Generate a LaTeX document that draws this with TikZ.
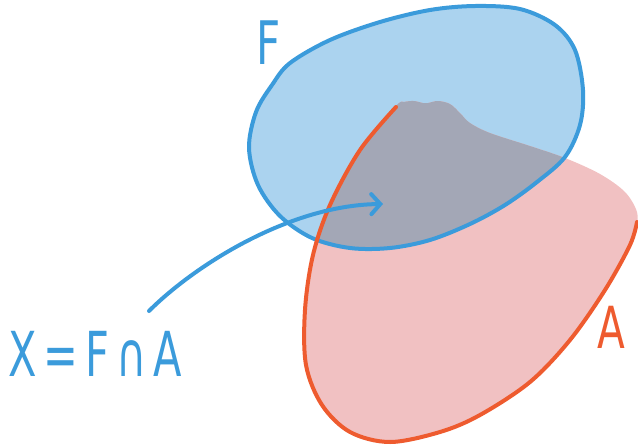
\documentclass[tikz,border=0pt]{standalone}
\usepackage{fontspec}
\setmainfont{DejaVu Sans}
\usetikzlibrary{arrows.meta}
\definecolor{fblue}{HTML}{3B9BDB}
\definecolor{ffill}{HTML}{ABD3EF}
\definecolor{ared}{HTML}{EE5B2F}
\definecolor{afill}{HTML}{F1C1C2}
\definecolor{xgray}{HTML}{A3A7B6}
\tikzset{
  pen/.style={line width=4pt, line cap=round, line join=round},
  hand/.style={inner sep=0pt, anchor=base west},
}
\begin{document}
\begin{tikzpicture}[x=1pt,y=-1pt]
\useasboundingbox (0,0) rectangle (638,445);
% set F
\path[save path=\Fpath] plot[smooth cycle, tension=0.55] coordinates {
 (290,63) (330,40) (380,22) (430,10) (475,6) (520,9) (555,25) (575,50)
 (583,90) (580,125) (565,157) (537,182) (505,205) (470,224) (430,240)
 (390,248) (350,248) (312,238) (280,216) (258,185) (249,148) (256,112)
 (272,85)};
% set A (fill region)
\path[save path=\Apath] plot[smooth cycle, tension=0.55] coordinates {
 (396,106) (404,102) (414,101) (423,103) (428,103) (438,101) (450,104)
 (460,113) (470,123) (490,133) (530,146) (565,158) (600,174) (625,192)
 (637,212) (636,228) (630,245) (605,290) (570,340) (530,382) (480,415)
 (440,432) (390,442) (350,432) (322,405) (306,365) (305,310) (313,255)
 (330,205) (360,150)};
\fill[ffill, use path=\Fpath];
\fill[afill, use path=\Apath];
\begin{scope}
  \clip[use path=\Fpath];
  \fill[xgray, use path=\Apath];
\end{scope}
% outlines
\draw[pen, fblue, use path=\Fpath];
\draw[pen, ared] plot[smooth, tension=0.55] coordinates {
 (396,107) (360,150) (330,205) (313,255) (305,310) (306,365) (322,405)
 (350,432) (390,442) (440,432) (480,415) (530,382) (570,340) (605,290)
 (630,245) (637,222)};
% labels
\node[hand, text=fblue] (lf) at (256,64) {\scalebox{0.7}[1]{\fontsize{60}{60}\selectfont F}};
\node[hand, text=ared] (la) at (597,348) {\scalebox{0.7}[1]{\fontsize{58}{58}\selectfont A}};
\node[hand, text=fblue] (lx) at (8,376) {\scalebox{0.67}[1]{\fontsize{62}{62}\selectfont X\,=\,F\,∩\,A}};
% arrow
\coordinate (as) at (149,311);
\coordinate (ae) at (383,204);
\draw[pen, fblue, -{Straight Barb[length=9pt,width=20pt,line cap=round]}]
  (as) .. controls (195,265) and (290,205) .. (ae);
\end{tikzpicture}
\end{document}
